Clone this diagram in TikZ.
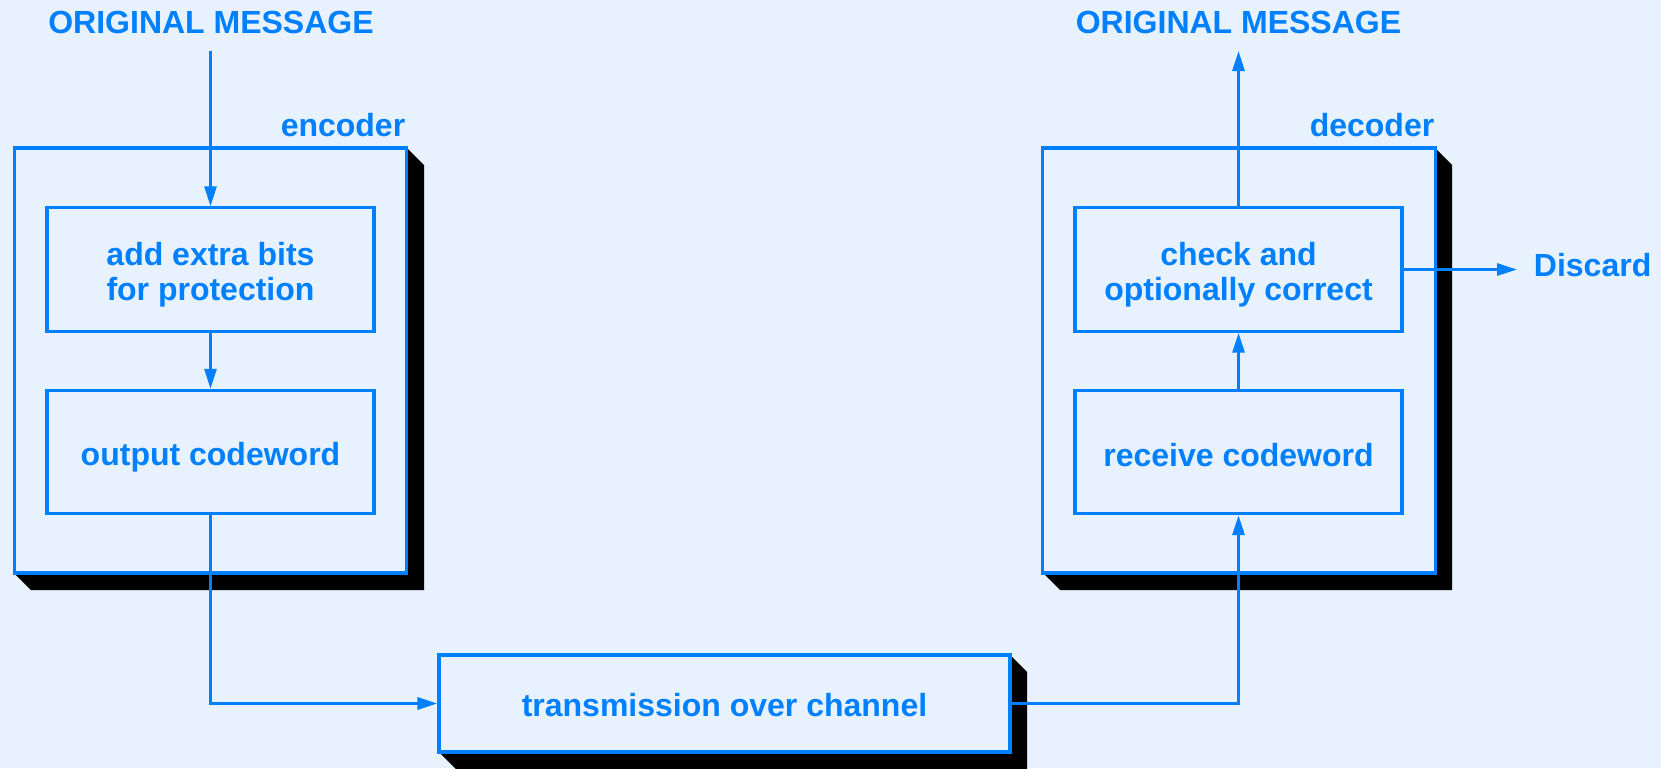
\documentclass[tikz,border=0pt]{standalone}
\usepackage{fontspec}
\setmainfont{Liberation Sans}
\usetikzlibrary{arrows.meta}
\definecolor{bl}{RGB}{0,128,255}
\definecolor{bg}{RGB}{232,241,254}
\begin{document}
\begin{tikzpicture}[x=0.75pt,y=-0.75pt,
  lbl/.style={font=\fontsize{24}{26.4}\selectfont\bfseries, text=bl, inner sep=0pt},
  box/.style={draw=bl, line width=2.35pt, fill=bg, inner sep=0pt},
  sbox/.style={box, minimum width=245.25pt, minimum height=92.5pt},
  bigbox/.style={box, minimum width=294.5pt, minimum height=318.75pt},
  txt/.style={label={[lbl, align=center, yshift=-4pt]center:#1}},
  arr/.style={draw=bl, line width=2.35pt, -{Triangle[length=15pt,width=9pt]}},
  shad/.style={fill=black}]
\fill[bg] (0,0) rectangle (1661,768);
\useasboundingbox (0,0) rectangle (1661,768);
% shadows
\fill[shad] (407,148)--(424,165)--(424,590)--(31,590)--(14,573)--cycle;
\fill[shad] (1010,655)--(1027,672)--(1027,769)--(456,769)--(439,752)--cycle;
\fill[shad] (1435,148)--(1452,165)--(1452,590)--(1060,590)--(1043,573)--cycle;
% big boxes
\node[bigbox] (enc) at (210.5,360.5) {};
\node[bigbox] (dec) at (1239,360.5) {};
\node[box, minimum width=428.25pt, minimum height=72.75pt,
      label={[lbl, yshift=-1.5pt]center:transmission over channel}] (trans) at (724.5,703.5) {};
% inner boxes
\node[sbox, txt={add extra bits\\for protection}] (add) at (210.5,269.5) {};
\node[sbox, txt={output codeword}] (out) at (210.5,452) {};
\node[sbox, txt={check and\\optionally correct}] (check) at (1238.5,269.5) {};
\node[sbox, label={[lbl, yshift=-2.5pt]center:receive codeword}] (recv) at (1238.5,452) {};
% labels
\node[lbl] (msgL) at (211,22) {ORIGINAL MESSAGE};
\node[lbl] (msgR) at (1238.5,22) {ORIGINAL MESSAGE};
\node[lbl] (encl) at (343,125) {encoder};
\node[lbl] (decl) at (1372,125) {decoder};
\node[lbl, anchor=west, inner xsep=12.5pt] (disc) at (1517,265) {Discard};
\coordinate (inL) at (210.5,51);
\coordinate (outR) at (1238.5,51);
% connectors
\draw[arr] (inL) -- (add.north);
\draw[arr] (add.south) -- (out.north);
\draw[arr] (out.south) |- (trans.west);
\draw[arr] (trans.east) -| (recv.south);
\draw[arr] (recv.north) -- (check.south);
\draw[arr] (check.north) -- (outR);
\draw[arr] (check.east) -- (1517,269.5);
\end{tikzpicture}
\end{document}
